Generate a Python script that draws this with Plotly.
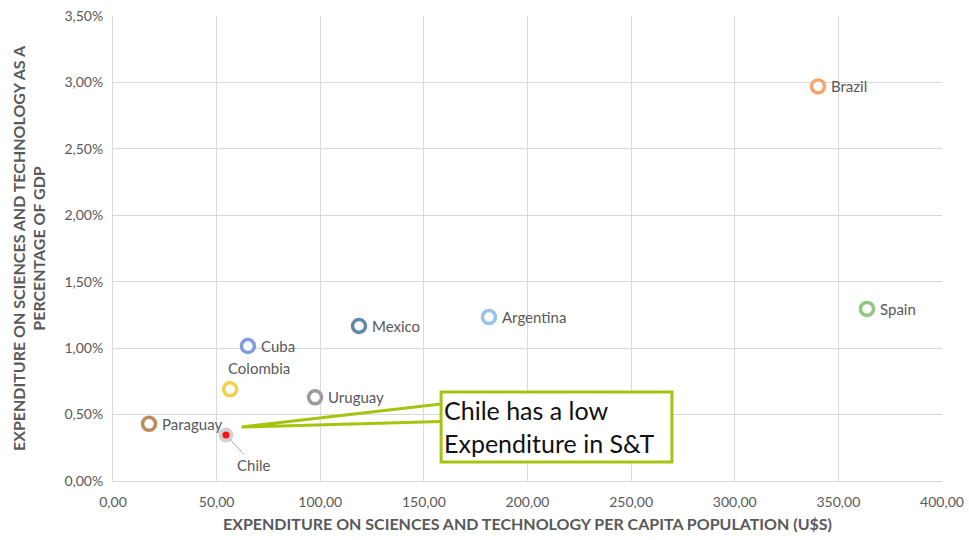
import plotly.graph_objects as go

countries = ["Brazil", "Spain", "Argentina", "Mexico", "Cuba", "Colombia", "Uruguay", "Paraguay"]
per_capita = [340.2, 363.8, 181.4, 118.7, 65.1, 56.5, 97.5, 17.4]
pct_gdp = [0.0297, 0.01295, 0.01234, 0.01167, 0.01016, 0.0069, 0.0063, 0.0043]
colors = ["#F4A66E", "#93C77E", "#93C3EE", "#5F86AC", "#7F9DDC", "#F8CF4A", "#9A9A9A", "#BD8A60"]
label_side = ["right"] * 5 + ["top", "right", "right"]

chile_x = [54.5]
chile_y = [0.00346]

x_ticks = [0, 50, 100, 150, 200, 250, 300, 350, 400]
y_ticks = [0, 0.005, 0.01, 0.015, 0.02, 0.025, 0.03, 0.035]

callout_text = "Chile has a low<br>Expenditure in S&T"
callout_tip = (62.0, 0.00406)
callout_box = (158.3, 269.7, 0.00143, 0.0067)

FONT = "Lato, 'Open Sans', sans-serif"
GREY = "#595959"
LIME = "#A6C40E"

fig = go.Figure()

for c, x, y, col, side in zip(countries, per_capita, pct_gdp, colors, label_side):
    fig.add_trace(go.Scatter(
        x=[x], y=[y], mode="markers",
        marker=dict(size=13, color="white", line=dict(color=col, width=3.5)),
        showlegend=False, hoverinfo="skip"))
    if side == "right":
        fig.add_annotation(x=x, y=y, text=c, showarrow=False, xanchor="left",
                           yanchor="middle", xshift=11,
                           font=dict(family=FONT, size=15, color=GREY))
    else:
        fig.add_annotation(x=x, y=y, text=c, showarrow=False, xanchor="center",
                           yanchor="bottom", yshift=10, xshift=29,
                           font=dict(family=FONT, size=15, color=GREY))

# Chile: grey halo + red dot
fig.add_trace(go.Scatter(x=chile_x, y=chile_y, mode="markers",
                         marker=dict(size=15, color="rgba(150,150,150,0.45)", line=dict(width=0)),
                         showlegend=False, hoverinfo="skip"))
fig.add_trace(go.Scatter(x=chile_x, y=chile_y, mode="markers",
                         marker=dict(size=7, color="#FF1010", line=dict(width=0)),
                         showlegend=False, hoverinfo="skip"))

fig.add_annotation(x=chile_x[0], y=chile_y[0], text="Chile", showarrow=True,
                   arrowhead=0, arrowwidth=1, arrowcolor="#AAAAAA", ax=28, ay=30,
                   standoff=6, font=dict(family=FONT, size=15, color=GREY))

# Callout wedge
bx0, bx1, by0, by1 = callout_box
tx, ty = callout_tip
wedge_top = by1 - (by1 - by0) * 0.17
wedge_bot = by1 - (by1 - by0) * 0.42
fig.add_shape(type="path",
              path=f"M {bx0},{wedge_top} L {tx},{ty} L {bx0},{wedge_bot}",
              line=dict(color=LIME, width=3), xref="x", yref="y")
fig.add_shape(type="rect", x0=bx0, x1=bx1, y0=by0, y1=by1,
              line=dict(color=LIME, width=3), fillcolor="white", xref="x", yref="y")
fig.add_annotation(x=bx0, y=(by0 + by1) / 2, xanchor="left", yanchor="middle",
                   text=callout_text, showarrow=False, align="left",
                   font=dict(family=FONT, size=25, color="#111111"), xshift=1)

fig.update_layout(
    width=969, height=540,
    margin=dict(l=113, r=27, t=16, b=59),
    paper_bgcolor="white", plot_bgcolor="white",
    separators=",.",
    font=dict(family=FONT, color=GREY),
    xaxis=dict(range=[0, 400], tickvals=x_ticks, tickformat=".2f", automargin=False,
               showgrid=True, gridcolor="#D9D9D9", gridwidth=1,
               zeroline=False, showline=True, linecolor="#D9D9D9",
               tickfont=dict(size=14, color=GREY), ticks="", ticklabelstandoff=8,
               title=dict(text="<b>EXPENDITURE ON SCIENCES AND TECHNOLOGY PER CAPITA POPULATION (U$S)</b>",
                          font=dict(size=16, color=GREY), standoff=10)),
    yaxis=dict(range=[0, 0.035], tickvals=y_ticks, tickformat=".2%", automargin=False,
               showgrid=True, gridcolor="#D9D9D9", gridwidth=1,
               zeroline=False, showline=True, linecolor="#D9D9D9",
               tickfont=dict(size=14, color=GREY), ticks="", ticklabelstandoff=6,
               title=dict(text="<b>EXPENDITURE ON SCIENCES AND TECHNOLOGY AS A<br>PERCENTAGE OF GDP</b>",
                          font=dict(size=16, color=GREY), standoff=14)),
)

fig.write_html("out.html")
